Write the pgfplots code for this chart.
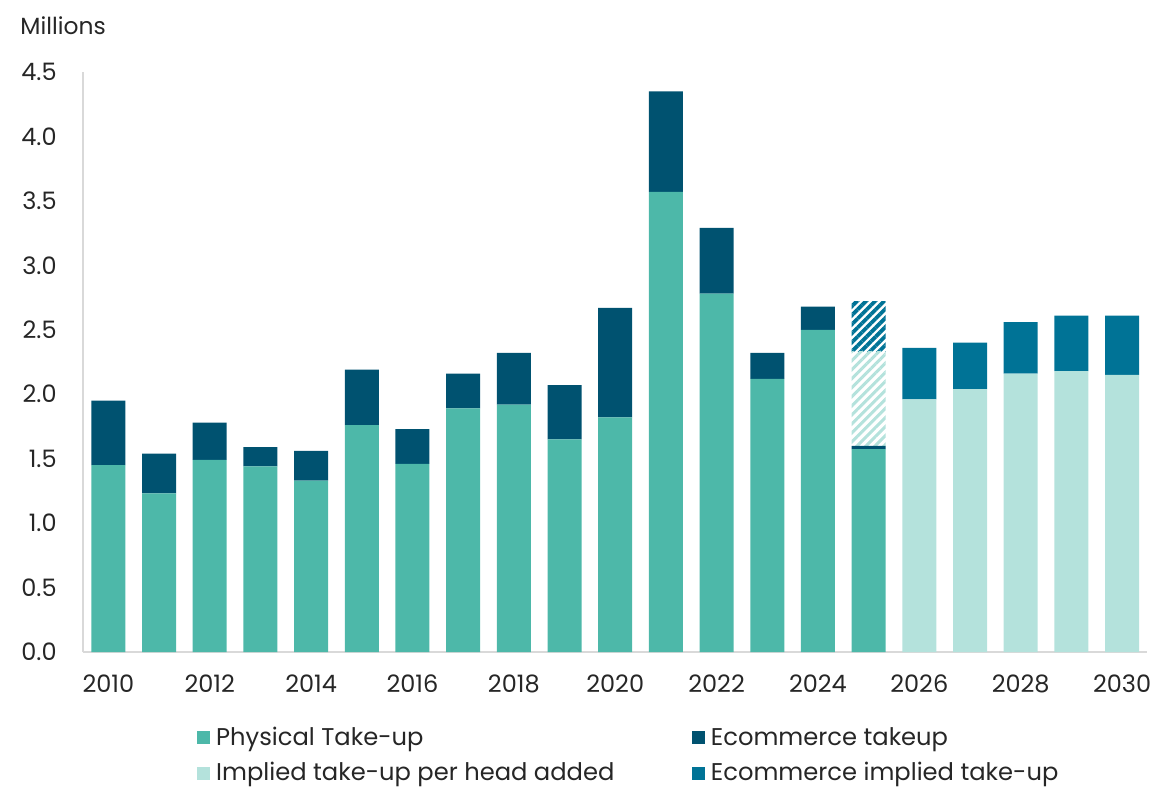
\documentclass[border=0pt]{standalone}
\usepackage{fontspec}
\setmainfont{Poppins}
\usepackage{pgfplots}
\pgfplotsset{compat=1.18}
\usetikzlibrary{patterns.meta}

\definecolor{phys}{HTML}{4DB8A9}
\definecolor{ecom}{HTML}{005270}
\definecolor{impl}{HTML}{B4E2DC}
\definecolor{ecimpl}{HTML}{007396}
\definecolor{axgray}{HTML}{D9D9D9}
\definecolor{txt}{HTML}{262626}

\begin{document}
\begin{tikzpicture}
\begin{axis}[
    scale only axis,
    width=532.2bp, height=290bp,
    ybar stacked, bar width=17bp,
    xmin=-0.5, xmax=20.5, ymin=0, ymax=4.5,
    axis x line*=bottom, axis y line*=left,
    axis line style={axgray, line width=0.75bp},
    major tick length=0pt,
    xtick={0,2,4,6,8,10,12,14,16,18,20},
    xticklabels={2010,2012,2014,2016,2018,2020,2022,2024,2026,2028,2030},
    ytick={0,0.5,1,1.5,2,2.5,3,3.5,4,4.5},
    /pgf/number format/fixed, /pgf/number format/fixed zerofill,
    /pgf/number format/precision=1, /pgf/number format/assume math mode=true,
    yticklabel style={inner sep=0pt, xshift=-13bp},
    xticklabel style={inner sep=0pt, yshift=-11bp},
    tick label style={font=\fontsize{12bp}{14bp}\selectfont, text=txt},
    legend style={draw=none, fill=none, at={(0.1015,-0.115)}, anchor=north west,
        legend columns=2, column sep=1bp, row sep=3bp,
        font=\fontsize{12.1bp}{13.5bp}\selectfont, text=txt},
    legend cell align=left,
    legend image code/.code={\fill[#1] (0bp,-3.2bp) rectangle (6.4bp,3.2bp);},
    clip=false,
]
% physical take-up
\addplot[fill=phys, draw=none] coordinates {
 (0,1.45) (1,1.23) (2,1.49) (3,1.44) (4,1.33) (5,1.76) (6,1.46) (7,1.89)
 (8,1.92) (9,1.65) (10,1.82) (11,3.57) (12,2.78) (13,2.12) (14,2.50) (15,1.575)
 (16,0) (17,0) (18,0) (19,0) (20,0)};
\addlegendentry{\makebox[235bp][l]{Physical Take-up}}
% ecommerce take-up
\addplot[fill=ecom, draw=none] coordinates {
 (0,0.50) (1,0.31) (2,0.29) (3,0.15) (4,0.23) (5,0.43) (6,0.27) (7,0.27)
 (8,0.40) (9,0.42) (10,0.85) (11,0.78) (12,0.51) (13,0.20) (14,0.18) (15,0.025)
 (16,0) (17,0) (18,0) (19,0) (20,0)};
\addlegendentry{Ecommerce takeup}
% 2025 hatched parts
\addplot[forget plot, draw=none, fill=white, pattern={Lines[angle=45,distance=3.2bp,line width=1.5bp]}, pattern color=impl] coordinates {
 (0,0) (1,0) (2,0) (3,0) (4,0) (5,0) (6,0) (7,0) (8,0) (9,0) (10,0) (11,0)
 (12,0) (13,0) (14,0) (15,0.73) (16,0) (17,0) (18,0) (19,0) (20,0)};
\addplot[forget plot, draw=none, fill=white, pattern={Lines[angle=45,distance=3.2bp,line width=1.9bp]}, pattern color=ecimpl] coordinates {
 (0,0) (1,0) (2,0) (3,0) (4,0) (5,0) (6,0) (7,0) (8,0) (9,0) (10,0) (11,0)
 (12,0) (13,0) (14,0) (15,0.39) (16,0) (17,0) (18,0) (19,0) (20,0)};
% implied take-up per head added
\addplot[fill=impl, draw=none] coordinates {
 (0,0) (1,0) (2,0) (3,0) (4,0) (5,0) (6,0) (7,0) (8,0) (9,0) (10,0) (11,0)
 (12,0) (13,0) (14,0) (15,0) (16,1.96) (17,2.04) (18,2.16) (19,2.18) (20,2.15)};
\addlegendentry{\makebox[235bp][l]{Implied take-up per head added}}
% ecommerce implied take-up
\addplot[fill=ecimpl, draw=none] coordinates {
 (0,0) (1,0) (2,0) (3,0) (4,0) (5,0) (6,0) (7,0) (8,0) (9,0) (10,0) (11,0)
 (12,0) (13,0) (14,0) (15,0) (16,0.40) (17,0.36) (18,0.40) (19,0.43) (20,0.46)};
\addlegendentry{Ecommerce implied take-up}
\node[anchor=west, inner sep=0pt, text=txt, font=\fontsize{11.7bp}{14bp}\selectfont]
  at (rel axis cs:0,1) [xshift=-31.5bp, yshift=23bp] {Millions};
\end{axis}
\pgfresetboundingbox
\path[use as bounding box] (-41.5bp,-67.5bp) rectangle (534.5bp,326bp);
\end{tikzpicture}
\end{document}
